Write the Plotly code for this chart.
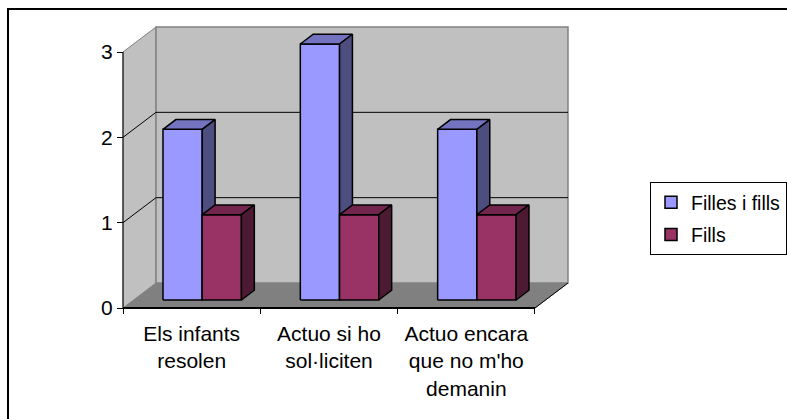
import textwrap
import plotly.graph_objects as go

# ---- data ----
categories = ["Els infants resolen", "Actuo si ho sol·liciten", "Actuo encara que no m'ho demanin"]
series_names = ["Filles i fills", "Fills"]
filles_i_fills = [2, 3, 2]
fills = [1, 1, 1]
value_ticks = [0, 1, 2, 3]

series_values = [filles_i_fills, fills]
front_colors = ["#9999FF", "#993366"]
top_colors = ["#7373BF", "#73264D"]
side_colors = ["#4D4D80", "#4D1A33"]

W, H = 787, 419
FONT = "Liberation Sans, Arial, sans-serif"

# pixel frame of the 3-D box: front-left-bottom corner, size of one category / one unit
X0_PX, Y0_PX = 123, 308
CAT_PX, UNIT_PX = 137.33, 85.33
DEPTH_DX_PX, DEPTH_DY_PX = 33, 25          # screen shift from the front plane to the back wall

# plot area in pixels (margins are zero, so domains are pixel fractions)
PL, PR, PT, PB = 100, 620, 12, 322
x_range = [(PL - X0_PX) / CAT_PX, (PR - X0_PX) / CAT_PX]
y_range = [(Y0_PX - PB) / UNIT_PX, (Y0_PX - PT) / UNIT_PX]

DX = DEPTH_DX_PX / CAT_PX
DY = DEPTH_DY_PX / UNIT_PX
n_cat = len(categories)
v_max = max(value_ticks)


def proj(c, v, d):
    """Oblique projection of (category, value, depth) into axis coordinates."""
    return c + d * DX, v + d * DY


fig = go.Figure()


def poly(points, fill, line_color, line_width=1.0):
    xs, ys = zip(*[proj(*p) for p in points])
    xs = list(xs) + [xs[0]]
    ys = list(ys) + [ys[0]]
    fig.add_trace(go.Scatter(
        x=xs, y=ys, mode="lines", fill="toself" if fill else None,
        fillcolor=fill, line=dict(color=line_color, width=line_width),
        hoverinfo="skip", showlegend=False,
    ))


def line(points, color, width=1.0):
    xs, ys = zip(*[proj(*p) for p in points])
    fig.add_trace(go.Scatter(
        x=list(xs), y=list(ys), mode="lines",
        line=dict(color=color, width=width),
        hoverinfo="skip", showlegend=False,
    ))


# walls and floor
poly([(0, 0, 0), (n_cat, 0, 0), (n_cat, 0, 1), (0, 0, 1)], "#808080", "#808080")
poly([(0, 0, 0), (0, v_max, 0), (0, v_max, 1), (0, 0, 1)], "#C0C0C0", "#808080")
poly([(0, 0, 1), (n_cat, 0, 1), (n_cat, v_max, 1), (0, v_max, 1)], "#C0C0C0", "#808080", 1.5)

# gridlines across the side wall and the back wall
for v in value_ticks[1:-1]:
    line([(0, v, 0), (0, v, 1), (n_cat, v, 1)], "#000000", 1)

# front axis lines
line([(0, 0, 0), (0, v_max, 0)], "#000000", 1)
line([(n_cat, 0, 0), (n_cat, 0, 1)], "#000000", 1)
line([(0, 0, 0), (n_cat, 0, 0)], "#000000", 2)

# bars
gap_ratio = 1.5
bar_w = 1 / (len(series_values) + gap_ratio)
d0, d1 = 0.32, 0.71
for i in range(n_cat):
    for s, vals in enumerate(series_values):
        v = vals[i]
        left = i + gap_ratio * bar_w / 2 + s * bar_w
        right = left + bar_w
        poly([(left, 0, d0), (right, 0, d0), (right, v, d0), (left, v, d0)],
             front_colors[s], "#000000", 1.5)
        poly([(left, v, d0), (right, v, d0), (right, v, d1), (left, v, d1)],
             top_colors[s], "#000000", 1.5)
        poly([(right, 0, d0), (right, 0, d1), (right, v, d1), (right, v, d0)],
             side_colors[s], "#000000", 1.5)

# legend entries
for s, name in enumerate(series_names):
    fig.add_trace(go.Bar(
        x=[None], y=[None], name=name, legendgroup=name,
        marker=dict(color=front_colors[s], line=dict(color="#000000", width=1.5)),
    ))

cat_labels = ["<br>".join(textwrap.wrap(c, 12)) for c in categories]

x_pos = 1 - Y0_PX / H
y_pos = X0_PX / W
fig.update_layout(
    width=W, height=H,
    margin=dict(l=0, r=0, t=0, b=0, autoexpand=False),
    paper_bgcolor="white", plot_bgcolor="white",
    font=dict(family=FONT, size=21, color="#000000"),
    showlegend=True,
    legend=dict(
        x=650 / W, y=1 - 182 / H, xanchor="left", yanchor="top",
        bgcolor="white", bordercolor="#000000", borderwidth=1,
        font=dict(family=FONT, size=19.5), traceorder="grouped", tracegroupgap=4,
    ),
    xaxis=dict(
        domain=[PL / W, PR / W], range=x_range, anchor="free", position=x_pos,
        showgrid=False, zeroline=False, showline=False,
        tickvals=list(range(n_cat + 1)), ticks="outside", ticklen=5,
        tickcolor="#000000", tickwidth=1, showticklabels=False, automargin=False,
    ),
    xaxis2=dict(
        domain=[PL / W, PR / W], range=x_range, anchor="free", position=x_pos,
        overlaying="x", showgrid=False, zeroline=False, showline=False,
        tickvals=[i + 0.5 for i in range(n_cat)], ticktext=cat_labels,
        ticks="", tickangle=0, ticklabelstandoff=11, automargin=False,
    ),
    yaxis=dict(
        domain=[1 - PB / H, 1 - PT / H], range=y_range, anchor="free", position=y_pos,
        showgrid=False, zeroline=False, showline=False,
        tickvals=value_ticks, ticks="outside", ticklen=6, tickwidth=1,
        tickcolor="#000000", automargin=False,
    ),
    barmode="overlay",
    shapes=[dict(
        type="rect", xref="paper", yref="paper",
        x0=8 / W, x1=1.05, y0=-0.05, y1=1 - 9 / H,
        line=dict(color="#000000", width=2), fillcolor="rgba(0,0,0,0)",
    )],
)

# a hidden trace to bring the second x axis into the figure
fig.add_trace(go.Scatter(x=[None], y=[None], xaxis="x2", showlegend=False, hoverinfo="skip"))

fig.write_html("out.html")
